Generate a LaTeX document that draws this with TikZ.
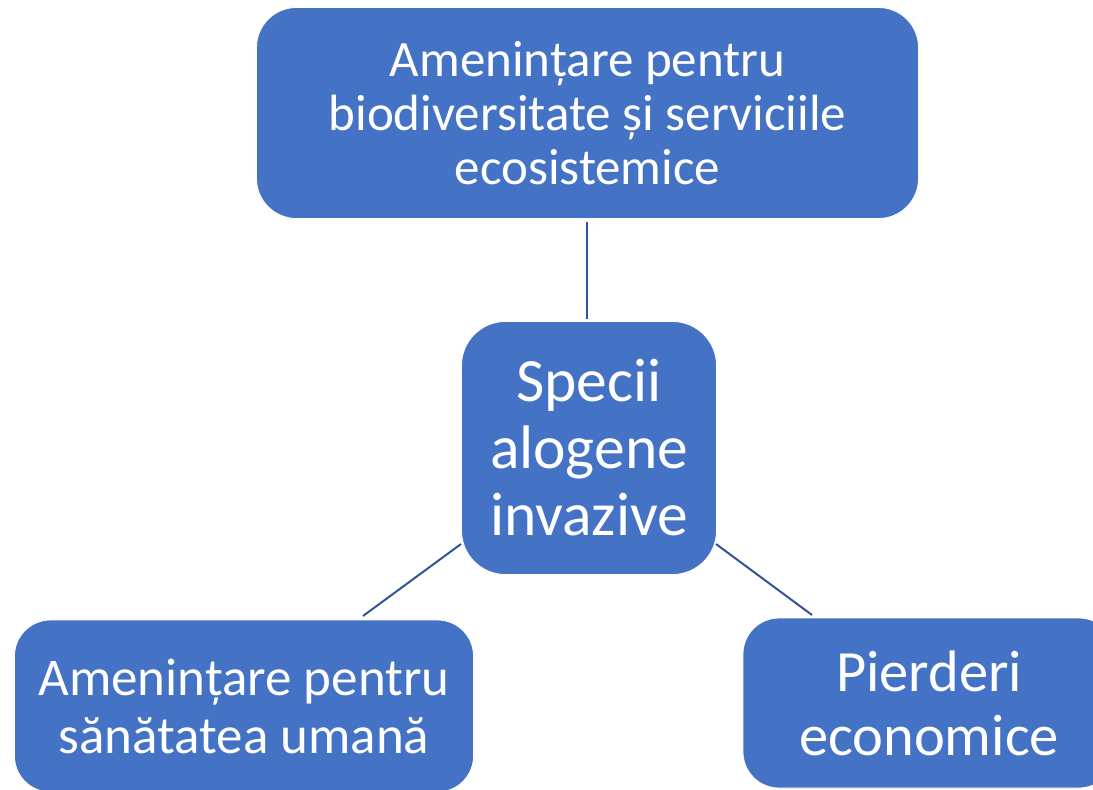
\documentclass[tikz,border=0pt]{standalone}
\usepackage{fontspec}
\setmainfont{Carlito}
\definecolor{boxblue}{HTML}{4472C4}
\definecolor{lineblue}{HTML}{2F5597}
\begin{document}
\begin{tikzpicture}[x=1pt,y=-1pt,
  box/.style={draw=white,line width=0.8pt,fill=boxblue,text=white,align=center,inner sep=0pt},
  link/.style={draw=lineblue,line width=2pt}]
\useasboundingbox (0,0) rectangle (1093,790);
\clip (0,0) rectangle (1093,790);
\node[box,rounded corners=40pt,minimum width=662pt,minimum height=211pt,
  font=\fontsize{51}{54}\selectfont] (top) at (587.5,113)
  {Amenințare pentru\\biodiversitate și serviciile\\ecosistemice};
\node[box,rounded corners=44pt,minimum width=255pt,minimum height=253pt,
  font=\fontsize{61.5}{67}\selectfont] (center) at (589,448)
  {Specii\\alogene\\invazive};
\node[box,rounded corners=36pt,minimum width=459pt,minimum height=172pt,
  font=\fontsize{53}{58}\selectfont] (left) at (244,706)
  {Amenințare pentru\\sănătatea umană};
\node[box,rounded corners=36pt,minimum width=372pt,minimum height=170pt,
  font=\fontsize{58.5}{64}\selectfont] (right) at (929,703)
  {Pierderi\\economice};
\coordinate (t1) at (587,222);
\coordinate (t2) at (587,319);
\coordinate (l1) at (461,544);
\coordinate (l2) at (363,616);
\coordinate (r1) at (716,544);
\coordinate (r2) at (812,615);
\draw[link] (t1) -- (t2);
\draw[link] (l1) -- (l2);
\draw[link] (r1) -- (r2);
\end{tikzpicture}
\end{document}
